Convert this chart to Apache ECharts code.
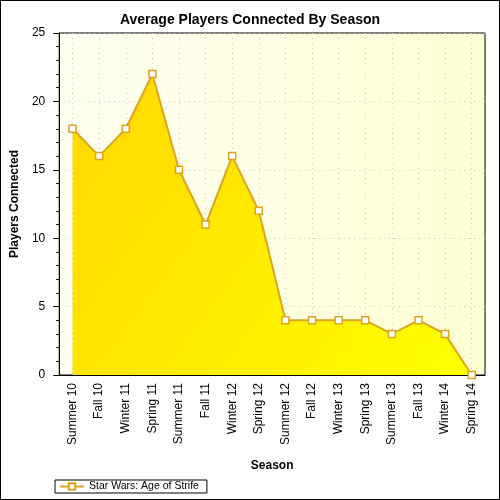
<!DOCTYPE html>
<html>
<head>
<meta charset="utf-8">
<script src="https://cdn.jsdelivr.net/npm/echarts@6/dist/echarts.min.js"></script>
<style>
  html, body { margin: 0; padding: 0; background: #fff; }
  #chart { width: 498px; height: 498px; border: 1px solid #000; }
</style>
</head>
<body>
<div id="chart"></div>
<script>
// seasons on the x axis
var seasons = ['Summer 10', 'Fall 10', 'Winter 11', 'Spring 11', 'Summer 11', 'Fall 11',
  'Winter 12', 'Spring 12', 'Summer 12', 'Fall 12', 'Winter 13', 'Spring 13',
  'Summer 13', 'Fall 13', 'Winter 14', 'Spring 14'];
// average players connected
var players = [18, 16, 18, 22, 15, 11, 16, 12, 4, 4, 4, 4, 3, 4, 3, 0];
var seriesName = 'Star Wars: Age of Strife';

var chart = echarts.init(document.getElementById('chart'));
var font = 'Liberation Sans, Arial, sans-serif';

var option = {
  animation: false,
  title: {
    text: 'Average Players Connected By Season',
    left: 'center',
    top: 7,
    textStyle: { fontFamily: font, fontSize: 14, fontWeight: 'bold', color: '#000' }
  },
  legend: {
    data: [seriesName],
    left: 54,
    bottom: 6,
    padding: [1, 8, 1, 4],
    borderColor: '#000',
    borderWidth: 1,
    backgroundColor: '#fff',
    itemWidth: 24,
    itemHeight: 8,
    itemGap: 4,
    textStyle: { fontFamily: font, fontSize: 10.5, color: '#000' }
  },
  grid: {
    left: 52,
    right: 14,
    top: 32,
    bottom: 124,
    show: true,
    borderColor: '#000',
    borderWidth: 1,
    backgroundColor: new echarts.graphic.LinearGradient(0, 0, 1, 0, [
      { offset: 0, color: '#fffff2' },
      { offset: 1, color: '#ffffd4' }
    ])
  },
  xAxis: {
    type: 'category',
    data: seasons,
    boundaryGap: true,
    name: 'Season',
    nameLocation: 'middle',
    nameGap: 85,
    nameTextStyle: { fontFamily: font, fontSize: 12, fontWeight: 'bold', color: '#000' },
    axisLine: { lineStyle: { color: '#000' } },
    axisTick: { alignWithLabel: true, length: 6, lineStyle: { color: '#000' } },
    axisLabel: { rotate: 90, fontFamily: font, fontSize: 12, color: '#000', margin: 8, interval: 0 },
    splitLine: { show: true, interval: 0, alignWithLabel: true, lineStyle: { color: '#c8c8c8', type: [1, 4] } }
  },
  yAxis: {
    type: 'value',
    min: 0,
    max: 25,
    interval: 5,
    name: 'Players Connected',
    nameLocation: 'middle',
    nameGap: 33,
    nameTextStyle: { fontFamily: font, fontSize: 12, fontWeight: 'bold', color: '#000' },
    axisLine: { show: true, lineStyle: { color: '#000' } },
    axisTick: { show: true, length: 6, lineStyle: { color: '#000' } },
    minorTick: { show: true, splitNumber: 5, length: 3, lineStyle: { color: '#000' } },
    axisLabel: { fontFamily: font, fontSize: 12, color: '#000', margin: 14 },
    splitLine: { show: true, lineStyle: { color: '#c8c8c8', type: [1, 4] } }
  },
  series: [{
    name: seriesName,
    type: 'line',
    data: players,
    symbol: 'rect',
    symbolSize: 7,
    showAllSymbol: true,
    lineStyle: { color: '#daa520', width: 2 },
    itemStyle: { color: '#fff', borderColor: '#daa520', borderWidth: 1.5 },
    areaStyle: {
      opacity: 1,
      color: new echarts.graphic.LinearGradient(0, 0, 1, 1, [
        { offset: 0, color: '#ffd700' },
        { offset: 1, color: '#ffff00' }
      ])
    }
  }]
};
chart.setOption(option);
</script>
</body>
</html>
